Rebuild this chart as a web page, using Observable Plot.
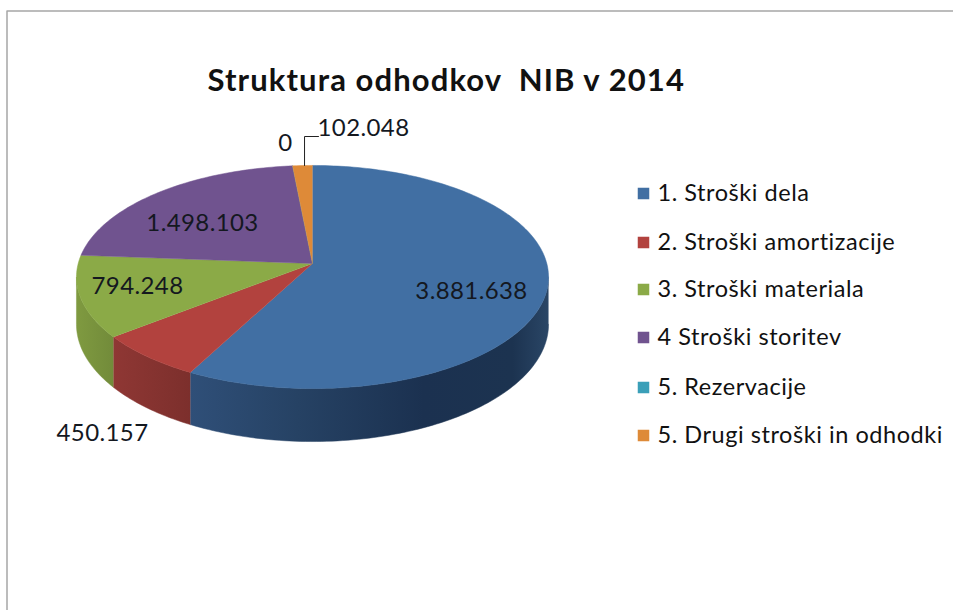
<!DOCTYPE html>
<html>
<head>
<meta charset="utf-8">
<script src="https://cdn.jsdelivr.net/npm/d3@7"></script>
<script src="https://cdn.jsdelivr.net/npm/@observablehq/plot@0.6"></script>
<style>
html,body{margin:0;padding:0;background:#fff;}
.leg text{letter-spacing:.55px;}
.lab text{letter-spacing:.4px;}
.ttl text{letter-spacing:1.1px;}
svg{display:block;}
</style>
</head>
<body>
<div id="chart"></div>
<script>
const title = "Struktura odhodkov  NIB v 2014";
const categories = ["1. Stroški dela","2. Stroški amortizacije","3. Stroški materiala","4 Stroški storitev","5. Rezervacije","5. Drugi stroški in odhodki"];
const values = [3881638,450157,794248,1498103,0,102048];
const valueLabels = ["3.881.638","450.157","794.248","1.498.103","0","102.048"];
const colors = ["#416fa3","#b2423e","#8baa47","#70538f","#3a9fb8","#de8a38"];
const labelX = [471,102,137,202,285,363];
const labelY = [291,433,286,223,143,128];
const legendY = [193,242,289,337,387,435];

// perspective view of the pie's top disc
const cx = 312, cy = 263, a = 234.3, b = 109.9, k = 0.121, d = 46.6;
const total = d3.sum(values);
let cum = 0;
const slices = values.map((v,i)=>{const s=cum/total*2*Math.PI; cum+=v; return {name:categories[i],start:s,end:cum/total*2*Math.PI,i};});
const rim = t => {const w = 1 + k*Math.cos(t); return {x: cx + a*Math.sin(t)/w, y: cy - b*Math.cos(t)/w, w};};
const arcAngles = (s,e) => {const n = Math.max(2,Math.ceil((e-s)/0.02)); return d3.range(n+1).map(j=>s+(e-s)*j/n);};

const topPts = slices.flatMap(sl => [
  {name:sl.name,x:cx,y:cy},
  ...arcAngles(sl.start,sl.end).map(t=>({name:sl.name,...rim(t)}))
]);

const visA = Math.acos(-k), visB = 2*Math.PI - visA;
const wallFills = ["url(#wallBlue)","url(#wallRed)","url(#wallGreen)"];
const walls = slices.slice(0,3).map((sl,i)=>{
  const s=Math.max(sl.start,visA), e=Math.min(sl.end,visB);
  const ts=arcAngles(s,e);
  const pts=[...ts.map(t=>{const r=rim(t);return {x:r.x,y:r.y};}),
             ...ts.slice().reverse().map(t=>{const r=rim(t);return {x:r.x,y:r.y+d/r.w};})];
  return Plot.line(pts,{x:"x",y:"y",fill:wallFills[i],stroke:wallFills[i],strokeWidth:0.5,curve:"linear"});
});

const grad = (svg,id,stops)=>{
  const g=svg.append("linearGradient").attr("id",id);
  stops.forEach(([o,c])=>g.append("stop").attr("offset",o).attr("stop-color",c));
};
const defsMark = () => {
  const svg=d3.create("svg:g");
  const defs=svg.append("defs");
  grad(defs,"wallBlue",[[0,"#2f4f78"],[0.3,"#264264"],[0.65,"#1b3150"],[0.9,"#1c3350"],[1,"#2a4666"]]);
  grad(defs,"wallRed",[[0,"#8f3734"],[1,"#7c2f2c"]]);
  grad(defs,"wallGreen",[[0,"#7f9a40"],[1,"#728b3a"]]);
  return svg.node();
};

const labels = valueLabels.map((t,i)=>({t,x:labelX[i],y:labelY[i]}));
const legend = categories.map((c,i)=>({c,y:legendY[i]}));
const leaderTop = rim((slices[5].start+slices[5].end)/2);
const leader = [{x:leaderTop.x+2,y:leaderTop.y},{x:leaderTop.x+2,y:136},{x:318,y:136}];

const plot = Plot.plot({
  width:953,height:610,margin:0,
  style:{background:"#fff",fontFamily:"Lato, sans-serif"},
  x:{domain:[0,953],range:[0,953],axis:null},
  y:{domain:[0,610],range:[0,610],axis:null},
  color:{domain:categories,range:colors},
  marks:[
    defsMark,
    Plot.line([{x:6.5,y:610},{x:6.5,y:10.5},{x:953,y:10.5}],{x:"x",y:"y",stroke:"#a6a6a6",strokeWidth:1.5}),
    ...walls,
    Plot.line(topPts,{x:"x",y:"y",z:"name",fill:"name",stroke:"name",strokeWidth:0.5}),
    Plot.line(leader,{x:"x",y:"y",stroke:"#222",strokeWidth:1}),
    Plot.text([title],{x:()=>207,y:()=>81,text:d=>d,textAnchor:"start",fontSize:31,fontWeight:700,fill:"#111",className:"ttl"}),
    Plot.text(labels,{x:"x",y:"y",text:"t",fontSize:24,fill:"#14181f",className:"lab"}),
    Plot.dot(legend,{x:()=>643,y:"y",symbol:"square",r:6.5,fill:"c",stroke:"none"}),
    Plot.text(legend,{x:()=>657,y:"y",text:"c",textAnchor:"start",fontSize:23.5,fill:"#111",className:"leg"})
  ]
});
document.getElementById("chart").append(plot);
</script>
</body>
</html>
